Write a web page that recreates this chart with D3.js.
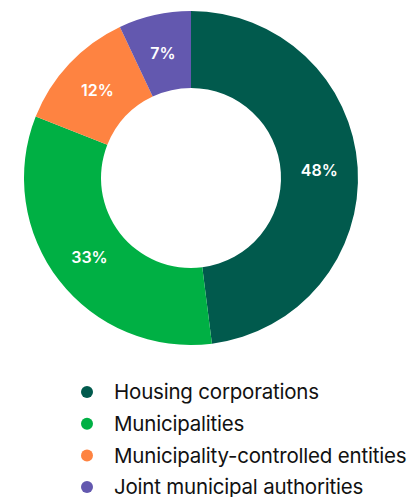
<!DOCTYPE html>
<html>
<head>
<meta charset="utf-8">
<script src="https://cdn.jsdelivr.net/npm/d3@7"></script>
<style>
  html, body { margin: 0; padding: 0; background: #fff; overflow: hidden; }
  svg { display: block; }
</style>
</head>
<body>
<svg id="chart" width="408" height="497"></svg>
<script>
// Share of owners, in percent
const categories = ["Housing corporations", "Municipalities", "Municipality-controlled entities", "Joint municipal authorities"];
const values = [48, 33, 12, 7];
const colors = ["#015a4d", "#00b044", "#fe8341", "#6358af"];

const svg = d3.select("#chart");
const cx = 191, cy = 178, outerR = 167, innerR = 90;

const pie = d3.pie().sort(null).value(d => d.value);
const arcs = pie(categories.map((c, i) => ({ name: c, value: values[i], color: colors[i] })));
const arc = d3.arc().innerRadius(innerR).outerRadius(outerR);

const g = svg.append("g").attr("transform", `translate(${cx},${cy})`);

g.selectAll("path.slice")
  .data(arcs)
  .join("path")
  .attr("class", "slice")
  .attr("d", arc)
  .attr("fill", d => d.data.color);

g.selectAll("text.pct")
  .data(arcs)
  .join("text")
  .attr("class", "pct")
  .attr("transform", d => `translate(${arc.centroid(d)})`)
  .attr("dy", "0.38em")
  .attr("text-anchor", "middle")
  .attr("font-family", "Inter, 'Liberation Sans', sans-serif")
  .attr("font-weight", 600)
  .attr("font-size", 16)
  .attr("fill", "#fff")
  .text(d => d.data.value + "%");

// Legend
const legend = svg.append("g").attr("transform", "translate(0,392)");
const rowH = 31.7;
const rows = legend.selectAll("g.row")
  .data(categories)
  .join("g")
  .attr("class", "row")
  .attr("transform", (d, i) => `translate(0,${i * rowH})`);

rows.append("circle")
  .attr("cx", 87)
  .attr("cy", 0)
  .attr("r", 6)
  .attr("fill", (d, i) => colors[i]);

rows.append("text")
  .attr("x", 114)
  .attr("y", 0)
  .attr("dy", "0.36em")
  .attr("font-family", "Inter, 'Liberation Sans', sans-serif")
  .attr("font-size", 20.5)
  .attr("letter-spacing", "-0.2")
  .attr("fill", "#111")
  .text(d => d);
</script>
</body>
</html>
